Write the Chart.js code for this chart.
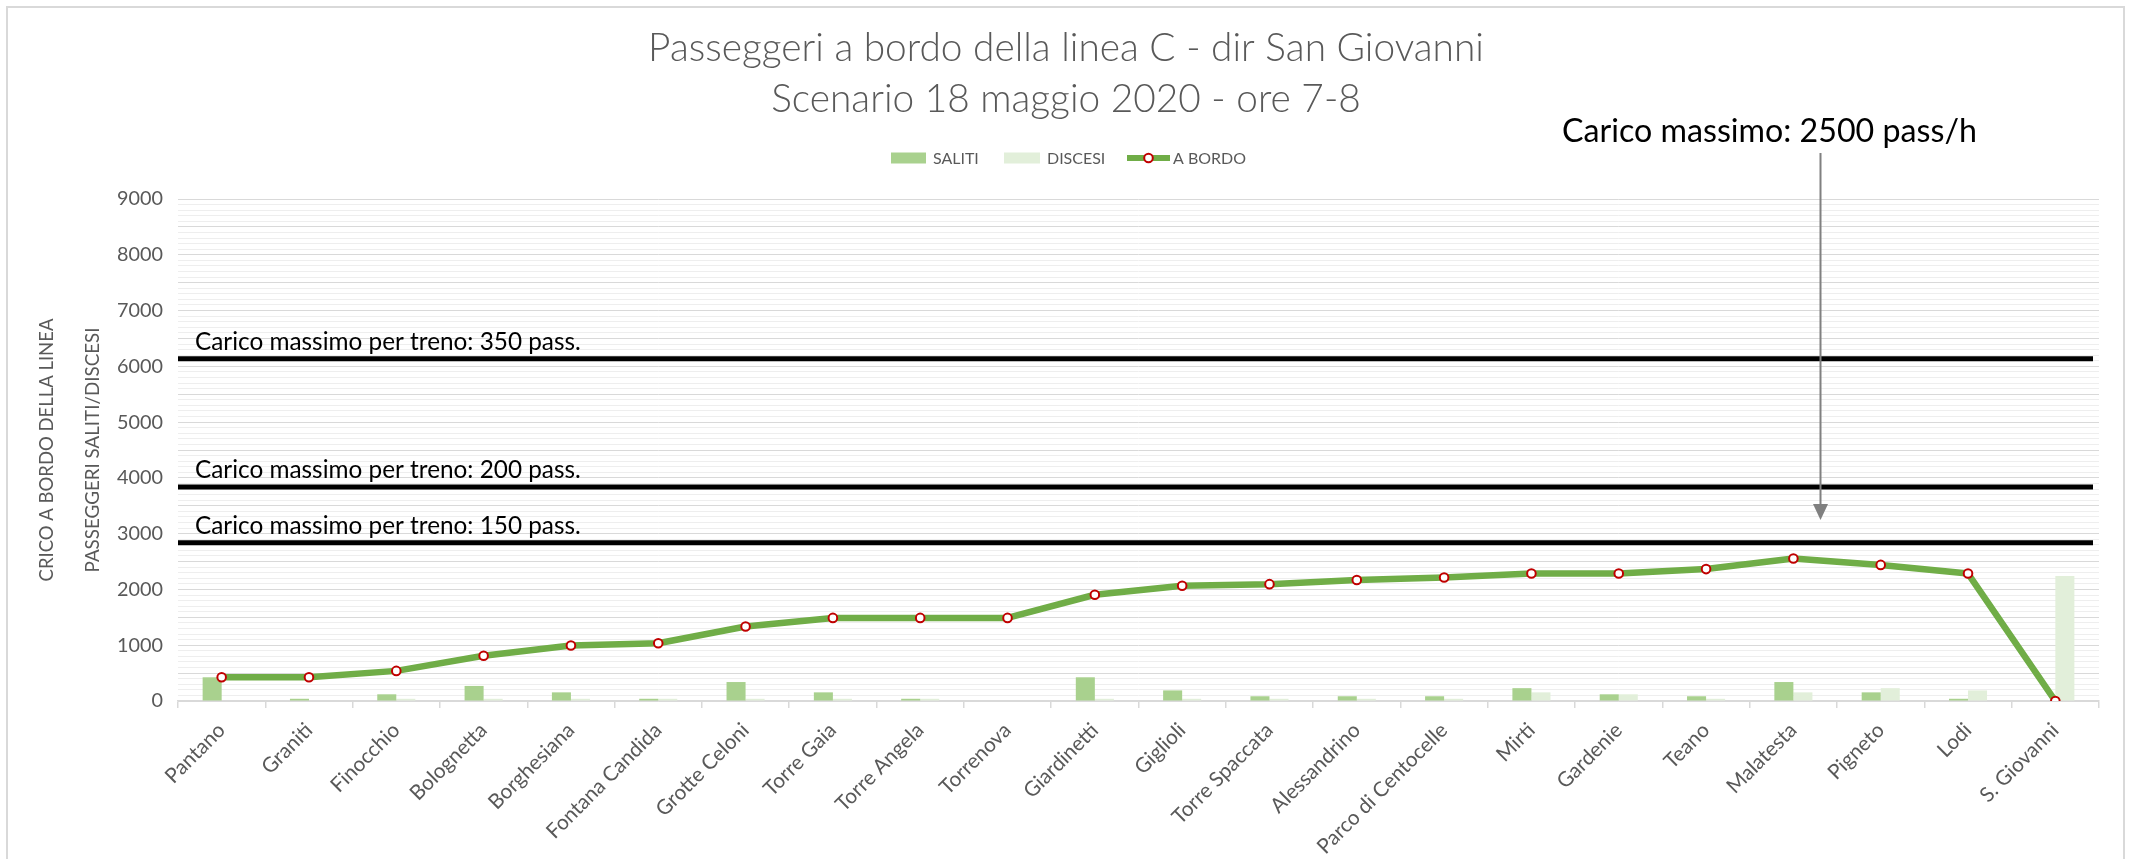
<!DOCTYPE html>
<html>
<head>
<meta charset="utf-8">
<script src="https://cdn.jsdelivr.net/npm/chart.js@4.4.1/dist/chart.umd.min.js"></script>
<style>
  html, body { margin: 0; padding: 0; background: #ffffff; }
  #wrap { width: 2132px; height: 859px; }
</style>
</head>
<body>
<div id="wrap"><canvas id="c" width="2132" height="859"></canvas></div>
<script>
// ---------- DATA ----------
const stations = ['Pantano', 'Graniti', 'Finocchio', 'Bolognetta', 'Borghesiana', 'Fontana Candida',
  'Grotte Celoni', 'Torre Gaia', 'Torre Angela', 'Torrenova', 'Giardinetti', 'Giglioli',
  'Torre Spaccata', 'Alessandrino', 'Parco di Centocelle', 'Mirti', 'Gardenie', 'Teano',
  'Malatesta', 'Pigneto', 'Lodi', 'S. Giovanni'];
const saliti  = [425, 40, 120, 270, 155, 40, 340, 155, 40, 0, 425, 190, 85, 85, 85, 230, 120, 85, 340, 155, 40, 0];
const discesi = [0, 0, 40, 40, 40, 40, 40, 40, 40, 0, 40, 40, 40, 40, 40, 155, 120, 40, 155, 230, 190, 2240];
const aBordo  = [425, 425, 540, 810, 995, 1035, 1335, 1490, 1490, 1490, 1905, 2065, 2095, 2170, 2215, 2285, 2285, 2365, 2555, 2440, 2285, 0];
const capacityValues = [6135, 3835, 2835];
const capacityLabels = ['Carico massimo per treno: 350 pass.', 'Carico massimo per treno: 200 pass.', 'Carico massimo per treno: 150 pass.'];
const titleLines = ['Passeggeri a bordo della linea C - dir San Giovanni', 'Scenario 18 maggio 2020 - ore 7-8'];
const yAxisTitles = ['CRICO A BORDO DELLA LINEA', 'PASSEGGERI SALITI/DISCESI'];
const seriesNames = ['SALITI', 'DISCESI', 'A BORDO'];
const annotationText = 'Carico massimo: 2500 pass/h';
const annotationTipValue = 3245;
const yMin = 0, yMax = 9000, yMinorStep = 100, yMajorGrid = 500, yLabelStep = 1000;

// ---------- STYLE ----------
const C_SALITI = '#a9d18e', C_DISCESI = '#e2efda', C_LINE = '#70ad47', C_MARK = '#c00000';
const C_TEXT = '#595959';
const FONT = 'Lato';

const mctx = document.createElement('canvas').getContext('2d');
function fitSize(text, weight, target) {
  mctx.font = weight + ' 100px ' + FONT;
  return 100 * target / mctx.measureText(text).width;
}
const titleSize = fitSize(titleLines[0], '300', 836);
const annSize = fitSize(annotationText, '400', 415);
const capSize = fitSize(capacityLabels[0], '400', 386);
const yT1Size = fitSize(yAxisTitles[0], '400', 263);
const yT2Size = fitSize(yAxisTitles[1], '400', 245);
const xLabSize = fitSize('Fontana Candida', '400', 153);
const yTickSize = fitSize('9000', '400', 46);
const legSize = fitSize('A BORDO', '400', 73);

const decor = {
  id: 'decor',
  beforeDraw(chart) {
    const ctx = chart.ctx;
    ctx.save();
    ctx.fillStyle = '#ffffff';
    ctx.fillRect(0, 0, chart.width, chart.height);
    ctx.strokeStyle = '#d9d9d9';
    ctx.lineWidth = 2;
    ctx.strokeRect(7, 7, 2117, 880);
    ctx.restore();
  },
  beforeDatasetsDraw(chart) {
    const ctx = chart.ctx, ys = chart.scales.y, a = chart.chartArea;
    ctx.save();
    capacityValues.forEach((v, i) => {
      const y = ys.getPixelForValue(v);
      ctx.strokeStyle = '#000000';
      ctx.lineWidth = 5;
      ctx.beginPath();
      ctx.moveTo(a.left, y);
      ctx.lineTo(a.right - 6, y);
      ctx.stroke();
      ctx.fillStyle = '#000000';
      ctx.font = '400 ' + capSize + 'px ' + FONT;
      ctx.textAlign = 'left';
      ctx.textBaseline = 'alphabetic';
      ctx.fillText(capacityLabels[i], 195, y - 9);
    });
    ctx.restore();
  },
  afterDraw(chart) {
    const ctx = chart.ctx, ys = chart.scales.y, a = chart.chartArea;
    ctx.save();
    // titles
    ctx.fillStyle = C_TEXT;
    ctx.font = '300 ' + titleSize + 'px ' + FONT;
    ctx.textAlign = 'center';
    ctx.textBaseline = 'alphabetic';
    ctx.fillText(titleLines[0], 1066, 61);
    ctx.fillText(titleLines[1], 1066, 112);

    // legend
    ctx.font = '400 ' + legSize + 'px ' + FONT;
    ctx.textAlign = 'left';
    ctx.textBaseline = 'middle';
    ctx.fillStyle = C_SALITI;
    ctx.fillRect(891, 152.5, 35, 11);
    ctx.fillStyle = C_TEXT;
    ctx.fillText(seriesNames[0], 933, 158.5);
    ctx.fillStyle = C_DISCESI;
    ctx.fillRect(1004, 152.5, 36, 11);
    ctx.fillStyle = C_TEXT;
    ctx.fillText(seriesNames[1], 1047, 158.5);
    ctx.strokeStyle = C_LINE;
    ctx.lineWidth = 6;
    ctx.beginPath();
    ctx.moveTo(1127, 158);
    ctx.lineTo(1170, 158);
    ctx.stroke();
    ctx.beginPath();
    ctx.arc(1148.5, 158, 4.3, 0, Math.PI * 2);
    ctx.fillStyle = '#ffffff';
    ctx.fill();
    ctx.strokeStyle = C_MARK;
    ctx.lineWidth = 2;
    ctx.stroke();
    ctx.fillStyle = C_TEXT;
    ctx.fillText(seriesNames[2], 1173, 158.5);

    // y axis titles
    const cy = (a.top + a.bottom) / 2;
    ctx.save();
    ctx.translate(47, cy);
    ctx.rotate(-Math.PI / 2);
    ctx.textAlign = 'center';
    ctx.textBaseline = 'middle';
    ctx.font = '400 ' + yT1Size + 'px ' + FONT;
    ctx.fillText(yAxisTitles[0], 0, 0);
    ctx.restore();
    ctx.save();
    ctx.translate(93, cy);
    ctx.rotate(-Math.PI / 2);
    ctx.textAlign = 'center';
    ctx.textBaseline = 'middle';
    ctx.font = '400 ' + yT2Size + 'px ' + FONT;
    ctx.fillText(yAxisTitles[1], 0, 0);
    ctx.restore();

    // annotation
    ctx.fillStyle = '#000000';
    ctx.font = '400 ' + annSize + 'px ' + FONT;
    ctx.textAlign = 'left';
    ctx.textBaseline = 'alphabetic';
    ctx.fillText(annotationText, 1562, 142);
    const ax = 1820.5;
    const tipY = ys.getPixelForValue(annotationTipValue);
    ctx.strokeStyle = '#808080';
    ctx.lineWidth = 2;
    ctx.beginPath();
    ctx.moveTo(ax, 153);
    ctx.lineTo(ax, tipY - 14);
    ctx.stroke();
    ctx.fillStyle = '#808080';
    ctx.beginPath();
    ctx.moveTo(ax - 7.5, tipY - 16);
    ctx.lineTo(ax + 7.5, tipY - 16);
    ctx.lineTo(ax, tipY);
    ctx.closePath();
    ctx.fill();
    ctx.restore();
  }
};

const ctx = document.getElementById('c').getContext('2d');
new Chart(ctx, {
  type: 'bar',
  data: {
    labels: stations,
    datasets: [
      {
        type: 'line', label: seriesNames[2], data: aBordo,
        borderColor: C_LINE, borderWidth: 6.5, borderJoinStyle: 'round', tension: 0,
        pointRadius: 4.3, pointBorderWidth: 2, pointBorderColor: C_MARK, pointBackgroundColor: '#ffffff',
        order: 0
      },
      { label: seriesNames[0], data: saliti, backgroundColor: C_SALITI, categoryPercentage: 0.436, barPercentage: 1, order: 1 },
      { label: seriesNames[1], data: discesi, backgroundColor: C_DISCESI, categoryPercentage: 0.436, barPercentage: 1, order: 1 }
    ]
  },
  options: {
    responsive: false,
    animation: false,
    devicePixelRatio: 1,
    layout: { padding: { left: 0, right: 33, top: 199, bottom: 0 } },
    plugins: { legend: { display: false }, title: { display: false }, tooltip: { enabled: false } },
    scales: {
      x: {
        offset: true,
        grid: { offset: true, drawOnChartArea: false, drawTicks: true, tickLength: 7, color: '#d9d9d9', lineWidth: 1.5 },
        border: { display: true, color: '#d9d9d9', width: 1.5 },
        ticks: { color: C_TEXT, font: { family: FONT, size: xLabSize }, minRotation: 45, maxRotation: 45, autoSkip: false, padding: 10 },
        afterFit: s => { s.height = 158; }
      },
      y: {
        min: yMin, max: yMax,
        ticks: {
          stepSize: yMinorStep, autoSkip: false, maxTicksLimit: 1000, padding: 15,
          color: C_TEXT, font: { family: FONT, size: yTickSize },
          callback: v => (Math.round(v) % yLabelStep === 0 ? String(Math.round(v)) : '')
        },
        grid: {
          drawTicks: false, lineWidth: 1,
          color: c => (Math.round(c.tick.value) % yMajorGrid === 0 ? '#d9d9d9' : '#eeeeee')
        },
        border: { display: false },
        afterFit: s => { s.width = 178; }
      }
    }
  },
  plugins: [decor]
});
</script>
</body>
</html>
